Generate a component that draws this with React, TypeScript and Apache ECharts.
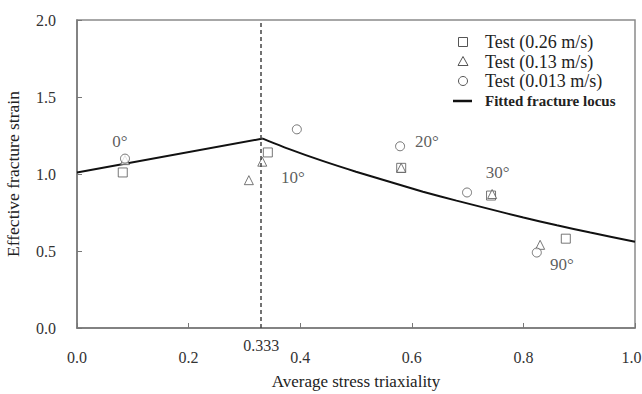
import React, { useEffect, useRef } from "react";
import * as echarts from "echarts";

const xTicks = [0, 0.2, 0.4, 0.6, 0.8, 1.0];
const yTicks = [0, 0.5, 1.0, 1.5, 2.0];
const squares026: number[][] = [
  [0.082, 1.01],
  [0.342, 1.14],
  [0.581, 1.04],
  [0.742, 0.86],
  [0.876, 0.58],
];
const triangles013: number[][] = [
  [0.086, 1.09],
  [0.308, 0.96],
  [0.332, 1.08],
  [0.581, 1.04],
  [0.744, 0.87],
  [0.83, 0.54],
];
const circles0013: number[][] = [
  [0.086, 1.1],
  [0.394, 1.29],
  [0.579, 1.18],
  [0.699, 0.88],
  [0.824, 0.49],
];
const fittedLocusRising: number[][] = [
  [0, 1.01],
  [0.333, 1.23],
];
const fittedLocusFalling: number[][] = [
  [0.333, 1.23],
  [0.378, 1.165],
  [0.44, 1.085],
  [0.5, 1.015],
  [0.56, 0.95],
  [0.62, 0.885],
  [0.68, 0.827],
  [0.74, 0.772],
  [0.8, 0.717],
  [0.86, 0.667],
  [0.92, 0.62],
  [1.0, 0.56],
];
const criticalTriaxiality = 0.333;
const angleLabels = ["0°", "10°", "20°", "30°", "90°"];
const anglePositions: number[][] = [
  [0.077, 1.21],
  [0.387, 0.98],
  [0.627, 1.21],
  [0.754, 1.01],
  [0.869, 0.41],
];
const legendNames = ["Test (0.26 m/s)", "Test (0.13 m/s)", "Test (0.013 m/s)", "Fitted fracture locus"];

const FONT = "Liberation Serif";
const markerColor = "#555";

export default function App() {
  const ref = useRef<HTMLDivElement>(null);
  useEffect(() => {
    if (!ref.current) return;
    const chart = echarts.init(ref.current, null, { renderer: "svg" });
    const scatterBase = {
      type: "scatter",
      symbolSize: 9,
      itemStyle: { color: "#fff", borderColor: markerColor, borderWidth: 1 },
      z: 3,
    };
    const lx = 463;
    const ly = [42, 61.5, 81, 101];
    const iconStyle = { fill: "#fff", stroke: markerColor, lineWidth: 1 };
    const legendGraphic: any[] = [
      { type: "rect", shape: { x: lx - 4.5, y: ly[0] - 4.5, width: 9, height: 9 }, style: iconStyle },
      {
        type: "polygon",
        shape: { points: [[lx, ly[1] - 5], [lx + 5, ly[1] + 4], [lx - 5, ly[1] + 4]] },
        style: iconStyle,
      },
      { type: "circle", shape: { cx: lx, cy: ly[2], r: 4.5 }, style: iconStyle },
      {
        type: "line",
        shape: { x1: lx - 10, y1: ly[3], x2: lx + 9, y2: ly[3] },
        style: { stroke: "#111", lineWidth: 2.5 },
      },
      ...legendNames.map((n, i) => ({
        type: "text",
        x: 485,
        y: ly[i],
        style: {
          text: n,
          font: i === 3 ? `bold 15px "${FONT}"` : `18px "${FONT}"`,
          fill: "#222",
          verticalAlign: "middle",
        },
      })),
    ];
    chart.setOption({
      animation: false,
      backgroundColor: "#fff",
      textStyle: { fontFamily: FONT },
      grid: {
        left: 77,
        right: 7,
        top: 20,
        bottom: 66,
        outerBoundsMode: "none",
        containLabel: false,
        show: true,
        borderColor: "#8a8a8a",
        borderWidth: 1.5,
        backgroundColor: "#fff",
      },
      xAxis: {
        type: "value",
        min: 0,
        max: 1,
        interval: 0.2,
        axisLine: { show: true, lineStyle: { color: "#777", width: 1.5 } },
        axisTick: { show: true, inside: true, length: 5, lineStyle: { color: "#777" } },
        splitLine: { show: false },
        axisLabel: {
          margin: 21,
          color: "#333",
          fontFamily: FONT,
          fontSize: 16,
          formatter: (v: number) => {
            const t = +v.toFixed(1);
            if (!xTicks.includes(t)) return "";
            return t === 1 ? `{edge|${t.toFixed(1)}}` : t.toFixed(1);
          },
          rich: {
            edge: { fontFamily: FONT, fontSize: 16, color: "#333", padding: [0, 7, 0, 0] },
          },
        },
        name: "Average stress triaxiality",
        nameLocation: "middle",
        nameGap: 45,
        nameTextStyle: { fontFamily: FONT, fontSize: 17, color: "#222" },
      },
      yAxis: {
        type: "value",
        min: 0,
        max: 2,
        interval: 0.5,
        axisLine: { show: true, lineStyle: { color: "#777", width: 1.5 } },
        axisTick: { show: true, inside: true, length: 5, lineStyle: { color: "#777" } },
        splitLine: { show: false },
        axisLabel: {
          margin: 21,
          color: "#333",
          fontFamily: FONT,
          fontSize: 16,
          formatter: (v: number) => (yTicks.includes(+v.toFixed(1)) ? v.toFixed(1) : ""),
        },
        name: "Effective fracture strain",
        nameLocation: "middle",
        nameGap: 55,
        nameTextStyle: { fontFamily: FONT, fontSize: 17.5, color: "#222" },
      },
      graphic: legendGraphic,
      series: [
        {
          name: "Fitted fracture locus",
          type: "line",
          data: fittedLocusRising,
          symbol: "none",
          lineStyle: { color: "#111", width: 2 },
          z: 2,
          markLine: {
            silent: true,
            symbol: "none",
            lineStyle: { type: [4, 3], color: "#444", width: 1.5 },
            label: {
              show: true,
              position: "start",
              distance: 9,
              formatter: String(criticalTriaxiality),
              fontFamily: FONT,
              fontSize: 16,
              color: "#333",
            },
            data: [{ xAxis: criticalTriaxiality }],
          },
        },
        {
          name: "Fitted fracture locus",
          type: "line",
          data: fittedLocusFalling,
          symbol: "none",
          smooth: 0.2,
          lineStyle: { color: "#111", width: 2 },
          z: 2,
        },
        { ...scatterBase, name: "Test (0.26 m/s)", symbol: "rect", data: squares026 },
        { ...scatterBase, name: "Test (0.13 m/s)", symbol: "triangle", data: triangles013 },
        { ...scatterBase, name: "Test (0.013 m/s)", symbol: "circle", data: circles0013 },
        {
          type: "scatter",
          name: "angles",
          symbolSize: 0,
          silent: true,
          data: anglePositions.map((p, i) => ({ value: p, name: angleLabels[i] })),
          label: {
            show: true,
            position: "inside",
            formatter: (p: any) => p.name,
            fontFamily: FONT,
            fontSize: 17,
            color: "#333",
          },
        },
      ],
    });
    return () => chart.dispose();
  }, []);
  return <div ref={ref} style={{ width: 642, height: 394, position: "absolute", left: 0, top: 0 }} />;
}
